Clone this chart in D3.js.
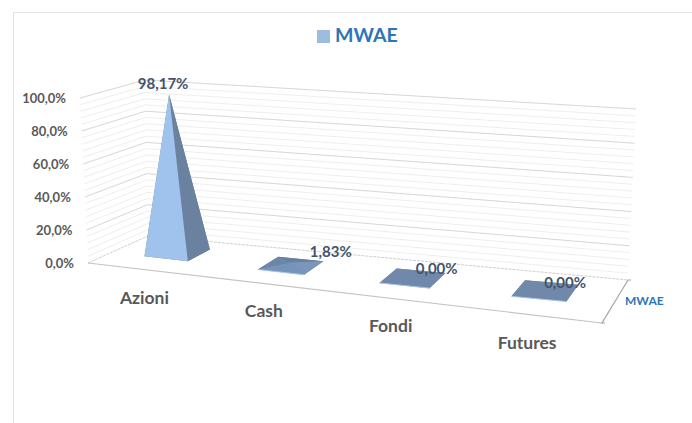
<!DOCTYPE html>
<html>
<head>
<meta charset="utf-8">
<script src="https://cdnjs.cloudflare.com/ajax/libs/d3/7.8.5/d3.min.js"></script>
<style>
  html, body { margin: 0; padding: 0; background: #fff; }
  svg { display: block; }
  text { font-family: Lato, "Open Sans", sans-serif; font-weight: 700; }
</style>
</head>
<body>
<div id="chart"></div>
<script>
var categories = ["Azioni", "Cash", "Fondi", "Futures"];
var values = [98.17, 1.83, 0, 0];
var valueLabels = ["98,17%", "1,83%", "0,00%", "0,00%"];
var majorTicks = [0, 20, 40, 60, 80, 100];
var minorTicks = d3.range(0, 101, 4);
var seriesName = "MWAE";

var width = 692, height = 423;

// corners of the floor on screen, then the "100%" vector at each corner
var FL = [88, 263], FR = [602, 323], BR = [628, 280], BL = [148, 236];
var upFL = [-8, -165], upFR = [7, -180], upBR = [8, -171], upBL = [-3, -156];

var labelOffset = [[-6, -10], [40, -11], [24, -9], [20, -8]];
var categoryOffset = [[-33, 51], [-27, 51], [-22, 54], [-18, 58]];
var tipLean = -5;

var svg = d3.select("#chart").append("svg")
    .attr("width", width)
    .attr("height", height);

// frame
svg.append("path")
    .attr("d", "M13.5,423V12.5H692")
    .attr("fill", "none")
    .attr("stroke", "#e3e3e3")
    .attr("stroke-width", 1);

var u = d3.scaleBand().domain(categories).range([0, 1]);
var y = d3.scaleLinear().domain([0, 100]).range([0, 1]);
var comma = d3.formatLocale({decimal: ",", thousands: ".", grouping: [3], currency: ["", ""]}).format(".1f");

// unit square to floor quad
var dx1 = FR[0] - BR[0], dx2 = BL[0] - BR[0], sx = FL[0] - FR[0] + BR[0] - BL[0];
var dy1 = FR[1] - BR[1], dy2 = BL[1] - BR[1], sy = FL[1] - FR[1] + BR[1] - BL[1];
var den = dx1 * dy2 - dx2 * dy1;
var g = (sx * dy2 - dx2 * sy) / den, h = (dx1 * sy - sx * dy1) / den;
var a = FR[0] - FL[0] + g * FR[0], b = BL[0] - FL[0] + h * BL[0];

function mix(s, t, i, p, q, r, w) {
    return (1 - s) * ((1 - t) * p[i] + t * w[i]) + s * ((1 - t) * q[i] + t * r[i]);
}

function project(s, t, v) {
    var w = g * s + h * t + 1;
    // half true perspective, half flat, that is what the picture shows
    var px = 0.5 * (a * s + b * t + FL[0]) / w + 0.5 * mix(s, t, 0, FL, FR, BR, BL);
    var py = mix(s, t, 1, FL, FR, BR, BL);
    var k = y(v || 0);
    return [px + mix(s, t, 0, upFL, upFR, upBR, upBL) * k,
            py + mix(s, t, 1, upFL, upFR, upBR, upBL) * k];
}

var line = d3.line();

function wallLine(v) {
    return line([project(0, 0, v), project(0, 1, v), project(1, 1, v)]);
}

// gridlines on the two walls
svg.append("g").selectAll("path")
    .data(minorTicks.filter(function(t) { return t % 20 !== 0; }))
  .enter().append("path")
    .attr("d", wallLine)
    .attr("fill", "none")
    .attr("stroke", "#eeeeee");

svg.append("g").selectAll("path")
    .data(majorTicks.slice(1))
  .enter().append("path")
    .attr("d", wallLine)
    .attr("fill", "none")
    .attr("stroke", "#d6d6d6");

// floor
svg.append("path")
    .attr("d", line([project(0, 0), project(0, 1), project(1, 1)]))
    .attr("fill", "none")
    .attr("stroke", "#cfcfcf")
    .attr("stroke-dasharray", "3 1");
svg.append("path")
    .attr("d", line([project(0, 0), project(1, 0)]))
    .attr("fill", "none")
    .attr("stroke", "#c4c4c4")
    .attr("stroke-width", 1.2);
svg.append("path")
    .attr("d", line([[FR[0] + 3, FR[1]], project(1, 0), project(1, 1), [BR[0] + 3, BR[1]]]))
    .attr("fill", "none")
    .attr("stroke", "#a6a6a6")
    .attr("stroke-width", 1.2);

// y tick labels
svg.append("g").selectAll("text")
    .data(majorTicks)
  .enter().append("text")
    .attr("x", function(t) { return project(0, 0, t)[0] - 14; })
    .attr("y", function(t) { return project(0, 0, t)[1] + 5; })
    .attr("text-anchor", "end")
    .attr("font-size", 13)
    .attr("fill", "#595959")
    .text(function(t) { return comma(t) + "%"; });

// pyramids
var halfU = u.bandwidth() * 0.195, v0 = 0.4, v1 = 0.8, vMid = (v0 + v1) / 2;

function center(c) {
    return u(c) + u.bandwidth() / 2 - 0.003;
}

function tipOf(c, i) {
    var p = project(center(c), vMid, values[i]);
    return [p[0] + tipLean * y(values[i]), p[1]];
}

var bars = svg.append("g").selectAll("g")
    .data(categories)
  .enter().append("g");

bars.each(function(c, i) {
    var s = center(c);
    var val = values[i];
    var fl = project(s - halfU, v0), fr = project(s + halfU, v0);
    var br = project(s + halfU, v1), bl = project(s - halfU, v1);
    var tip = tipOf(c, i);
    var tall = val > 5;
    var flat = val === 0;
    var faces = [
        {pts: [fl, fr, br, bl], fill: "#7089ab"},
        {pts: [bl, br, tip], fill: flat ? "#7089ab" : "#67809f"},
        {pts: [fl, bl, tip], fill: flat ? "#7089ab" : "#6c86a8"},
        {pts: [fr, br, tip], fill: tall ? "#6a82a0" : (flat ? "#7089ab" : "#7a96ba")},
        {pts: [fl, fr, tip], fill: tall ? "#9fc3ec" : (flat ? "#7089ab" : "#7594bb")}
    ];
    d3.select(this).selectAll("path")
        .data(faces)
      .enter().append("path")
        .attr("d", function(f) { return line(f.pts) + "Z"; })
        .attr("fill", function(f) { return f.fill; });
    if (!tall) {
        d3.select(this).append("path")
            .attr("d", line([fl, fr]))
            .attr("stroke", "#a9c6e8")
            .attr("fill", "none");
    }
});

// value labels
svg.append("g").selectAll("text")
    .data(categories)
  .enter().append("text")
    .attr("x", function(c, i) { return tipOf(c, i)[0] + labelOffset[i][0]; })
    .attr("y", function(c, i) { return tipOf(c, i)[1] + labelOffset[i][1] + 5; })
    .attr("text-anchor", "middle")
    .attr("font-size", 15)
    .attr("fill", "#44546a")
    .text(function(c, i) { return valueLabels[i]; });

// category labels
svg.append("g").selectAll("text")
    .data(categories)
  .enter().append("text")
    .attr("x", function(c, i) { return project(center(c), vMid)[0] + categoryOffset[i][0]; })
    .attr("y", function(c, i) { return project(center(c), vMid)[1] + categoryOffset[i][1]; })
    .attr("text-anchor", "middle")
    .attr("font-size", 17.5)
    .attr("fill", "#595959")
    .text(function(c) { return c; });

// series label on the depth axis
svg.append("text")
    .attr("x", 625)
    .attr("y", 305)
    .attr("font-size", 12)
    .attr("fill", "#2e75b6")
    .text(seriesName);

// legend
svg.append("rect")
    .attr("x", 317).attr("y", 30)
    .attr("width", 13).attr("height", 13)
    .attr("fill", "#9dbde0");
svg.append("text")
    .attr("x", 335)
    .attr("y", 42)
    .attr("font-size", 19.5)
    .attr("fill", "#2e75b6")
    .text(seriesName);
</script>
</body>
</html>
